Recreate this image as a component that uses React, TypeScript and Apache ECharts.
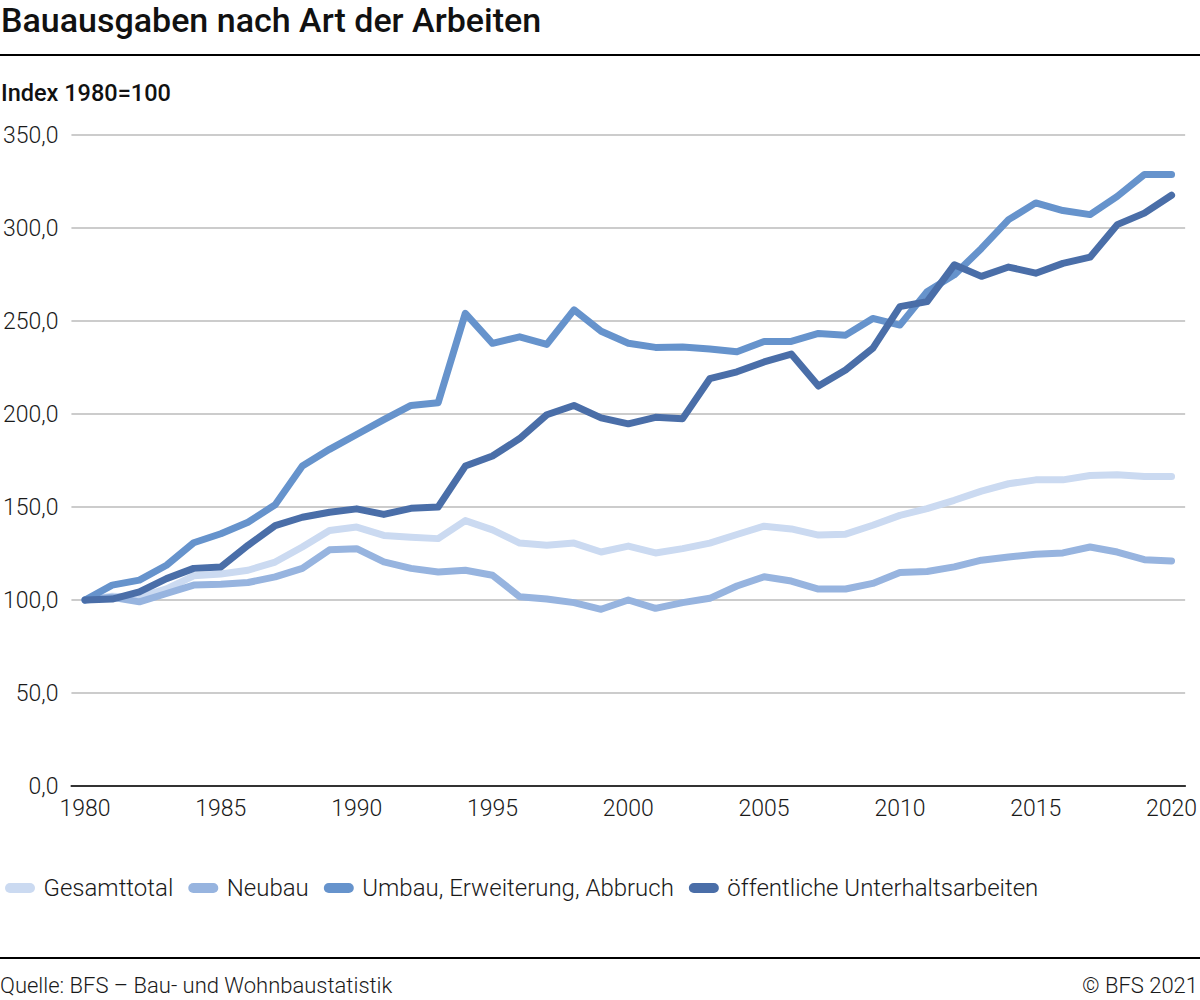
import React, { useEffect, useRef } from "react";
import * as echarts from "echarts";

const years: string[] = [];
for (let y = 1980; y <= 2020; y++) years.push(String(y));

const gesamttotal = [
  100, 102, 101.5, 106, 113, 114, 116, 120.4, 128.5, 137.4,
  139.2, 134.7, 133.8, 133, 142.7, 137.7, 130.6, 129.4, 130.6, 125.8,
  129, 125.3, 127.6, 130.6, 135.2, 139.7, 138.2, 134.9, 135.4, 140.2,
  145.5, 149.1, 153.6, 158.5, 162.5, 164.6, 164.6, 166.9, 167.4, 166.4,
  166.4,
];
const neubau = [
  100, 101.5, 99, 103.5, 108, 108.5, 109.4, 112.4, 117, 127,
  127.6, 120.5, 117, 115.1, 116, 113.3, 101.8, 100.5, 98.6, 95,
  100, 95.5, 98.6, 100.9, 107.5, 112.5, 110.2, 105.9, 105.9, 108.9,
  114.8, 115.3, 117.8, 121.4, 123.1, 124.6, 125.3, 128.5, 125.8, 121.7,
  121,
];
const umbau = [
  100, 108, 110.7, 118.7, 130.8, 135.6, 141.8, 151.2, 172, 181,
  189, 197, 204.6, 206, 254.1, 238, 241.5, 237.4, 256, 244.5,
  238, 235.8, 236, 235, 233.5, 239, 239, 243.3, 242.4, 251.4,
  247.8, 265.8, 274.8, 289, 304.5, 313.5, 309.4, 307.2, 317, 328.8,
  328.8,
];
const oeffentliche = [
  100, 100.5, 104.4, 111.5, 117, 117.8, 129.4, 140, 144.5, 147.2,
  149, 146, 149.3, 150, 172, 177.4, 186.8, 199.6, 204.6, 197.9,
  194.7, 198.2, 197.5, 219, 222.7, 228, 232.2, 215, 223.6, 235.3,
  257.7, 260.4, 280.2, 274, 279, 275.7, 281, 284.3, 301.8, 308,
  317.6,
];

const seriesNames = [
  "Gesamttotal",
  "Neubau",
  "Umbau, Erweiterung, Abbruch",
  "öffentliche Unterhaltsarbeiten",
];
const seriesData = [gesamttotal, neubau, umbau, oeffentliche];
const colors = ["#cbdaf1", "#97b4df", "#6693cc", "#4a6ea8"];

const FONT = "Roboto, 'Noto Sans', sans-serif";

export default function App() {
  const ref = useRef<HTMLDivElement>(null);
  useEffect(() => {
    if (!ref.current) return;
    const chart = echarts.init(ref.current, null, { renderer: "svg" });
    chart.setOption({
      animation: false,
      backgroundColor: "#ffffff",
      color: colors,
      textStyle: { fontFamily: FONT },
      grid: { left: 70, right: 10, top: 135, bottom: 214, containLabel: false },
      legend: {
        left: 0,
        top: 871,
        icon: "path://M5,0 H25 A5,5 0 0 1 25,10 H5 A5,5 0 0 1 5,0 Z",
        itemWidth: 31,
        itemHeight: 10,
        itemGap: 15,
        textStyle: {
          fontFamily: FONT,
          fontSize: 24,
          fontWeight: 300,
          color: "#1a1a1a",
          padding: [0, 0, 0, 3],
        },
        data: seriesNames,
      },
      xAxis: {
        type: "category",
        data: years,
        boundaryGap: true,
        axisTick: { show: false },
        axisLine: { lineStyle: { color: "#333333", width: 2 } },
        axisLabel: {
          interval: (idx: number) => idx % 5 === 0,
          fontFamily: FONT,
          fontSize: 23,
          fontWeight: 300,
          color: "#1a1a1a",
          margin: 11,
        },
        splitLine: { show: false },
      },
      yAxis: {
        type: "value",
        min: 0,
        max: 350,
        interval: 50,
        axisLine: { show: false },
        axisTick: { show: false },
        axisLabel: {
          fontFamily: FONT,
          fontSize: 23,
          fontWeight: 300,
          color: "#1a1a1a",
          margin: 13,
          formatter: (v: number) => v.toFixed(1).replace(".", ","),
        },
        splitLine: { lineStyle: { color: "#cccccc", width: 2 } },
      },
      series: seriesNames.map((name, i) => ({
        name,
        type: "line",
        data: seriesData[i],
        symbol: "none",
        lineStyle: { width: 7, color: colors[i], cap: "round", join: "round" },
        itemStyle: { color: colors[i] },
      })),
      graphic: [
        {
          type: "text",
          left: 1,
          top: 3,
          style: {
            text: "Bauausgaben nach Art der Arbeiten",
            font: `500 34px ${FONT}`,
            fill: "#111111",
          },
        },
        { type: "rect", shape: { x: 0, y: 54, width: 1200, height: 2 }, style: { fill: "#000000" } },
        {
          type: "text",
          left: 1,
          top: 81,
          style: {
            text: "Index 1980=100",
            font: `500 23.5px ${FONT}`,
            fill: "#111111",
          },
        },
        { type: "rect", shape: { x: 0, y: 957, width: 1200, height: 2 }, style: { fill: "#000000" } },
        {
          type: "text",
          left: 0,
          top: 974,
          style: {
            text: "Quelle: BFS – Bau- und Wohnbaustatistik",
            font: `300 22px ${FONT}`,
            fill: "#1a1a1a",
          },
        },
        {
          type: "text",
          right: 2,
          top: 974,
          style: {
            text: "© BFS 2021",
            font: `300 22px ${FONT}`,
            fill: "#1a1a1a",
          },
        },
      ],
    });
    return () => chart.dispose();
  }, []);
  return (
    <div style={{ position: "absolute", left: 0, top: 0 }}>
      <div ref={ref} style={{ width: 1200, height: 1000 }} />
    </div>
  );
}
